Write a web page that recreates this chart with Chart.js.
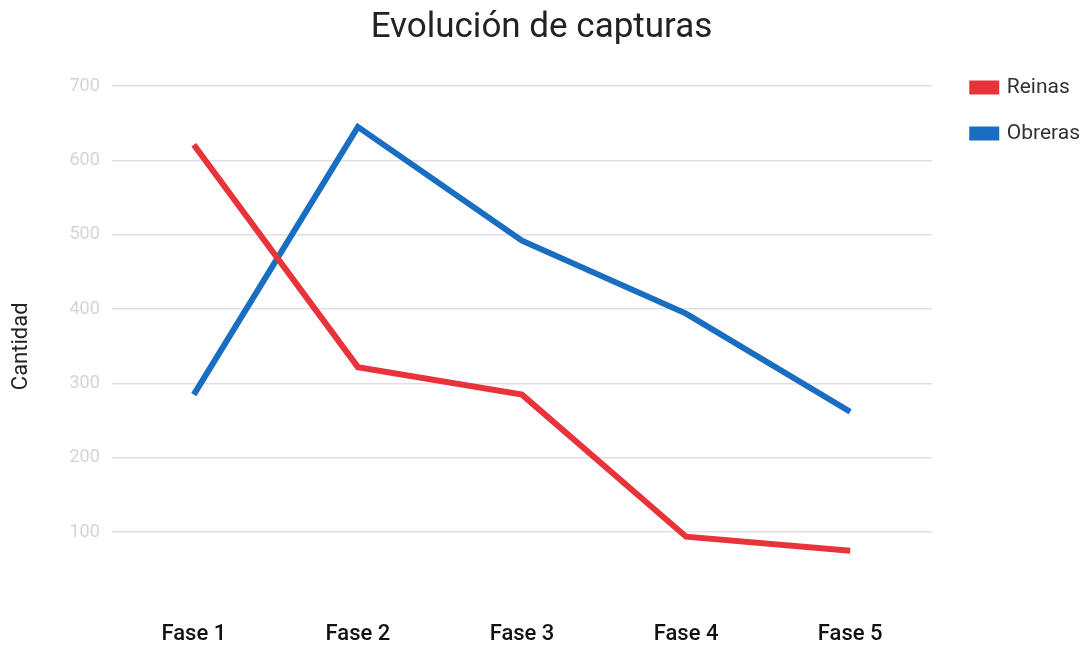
<!DOCTYPE html>
<html>
<head>
<meta charset="utf-8">
<script src="https://cdn.jsdelivr.net/npm/chart.js@4/dist/chart.umd.min.js"></script>
<style>
  html, body { margin: 0; padding: 0; background: #fff; }
  #wrap { width: 1090px; height: 650px; }
</style>
</head>
<body>
<div id="wrap"><canvas id="capturasChart" width="1090" height="650"></canvas></div>
<script>
// Data
const fases = ['Fase 1', 'Fase 2', 'Fase 3', 'Fase 4', 'Fase 5'];
const reinas = [621, 322, 285, 94, 75];
const obreras = [285, 645, 492, 394, 262];
const yTicks = [100, 200, 300, 400, 500, 600, 700];

const ctx = document.getElementById('capturasChart').getContext('2d');

// nudge the legend a bit away from the plot area
const legendGap = {
    id: 'legendGap',
    afterLayout(chart) {
        chart.legend.left += 15;
        chart.legend.right += 15;
    }
};

new Chart(ctx, {
    type: 'line',
    data: {
        labels: fases,
        datasets: [{
            label: 'Reinas',
            data: reinas,
            borderColor: '#e8333a',
            backgroundColor: '#e8333a',
            borderWidth: 6,
            pointRadius: 0,
            tension: 0
        }, {
            label: 'Obreras',
            data: obreras,
            borderColor: '#1a6ec2',
            backgroundColor: '#1a6ec2',
            borderWidth: 6,
            pointRadius: 0,
            tension: 0
        }]
    },
    plugins: [legendGap],
    options: {
        responsive: false,
        animation: false,
        layout: { padding: { left: 8, right: 15, top: 0, bottom: -13 } },
        plugins: {
            title: {
                display: true,
                text: 'Evolución de capturas',
                color: '#222',
                font: { family: 'Roboto', size: 35, weight: 'normal' },
                padding: { top: 7, bottom: 37 }
            },
            legend: {
                position: 'right',
                align: 'start',
                title: {
                    display: true,
                    text: ' ',
                    font: { size: 10 },
                    padding: { top: 40, bottom: 0 }
                },
                labels: {
                    boxWidth: 24,
                    boxHeight: 8,
                    padding: 25,
                    color: '#333',
                    font: { family: 'Roboto', size: 21 }
                }
            },
            tooltip: { enabled: false }
        },
        scales: {
            x: {
                offset: true,
                grid: { display: false, drawTicks: false },
                border: { display: false },
                ticks: {
                    color: '#111',
                    padding: 15,
                    font: { family: 'Roboto', size: 22, weight: 500 }
                }
            },
            y: {
                min: 0,
                max: 700,
                afterBuildTicks: axis => {
                    axis.ticks = [0].concat(yTicks).map(v => ({ value: v }));
                },
                border: { display: false },
                grid: {
                    color: c => c.tick.value === 0 ? 'rgba(0,0,0,0)' : '#dfdfea',
                    lineWidth: 1.5,
                    drawTicks: false
                },
                ticks: {
                    color: '#d3d3dc',
                    padding: 12,
                    font: { family: 'Roboto', size: 18 },
                    callback: v => v === 0 ? '' : v
                },
                title: {
                    display: true,
                    text: 'Cantidad',
                    color: '#222',
                    font: { family: 'Roboto', size: 22 },
                    padding: { top: 0, bottom: 23 }
                }
            }
        }
    }
});
</script>
</body>
</html>
